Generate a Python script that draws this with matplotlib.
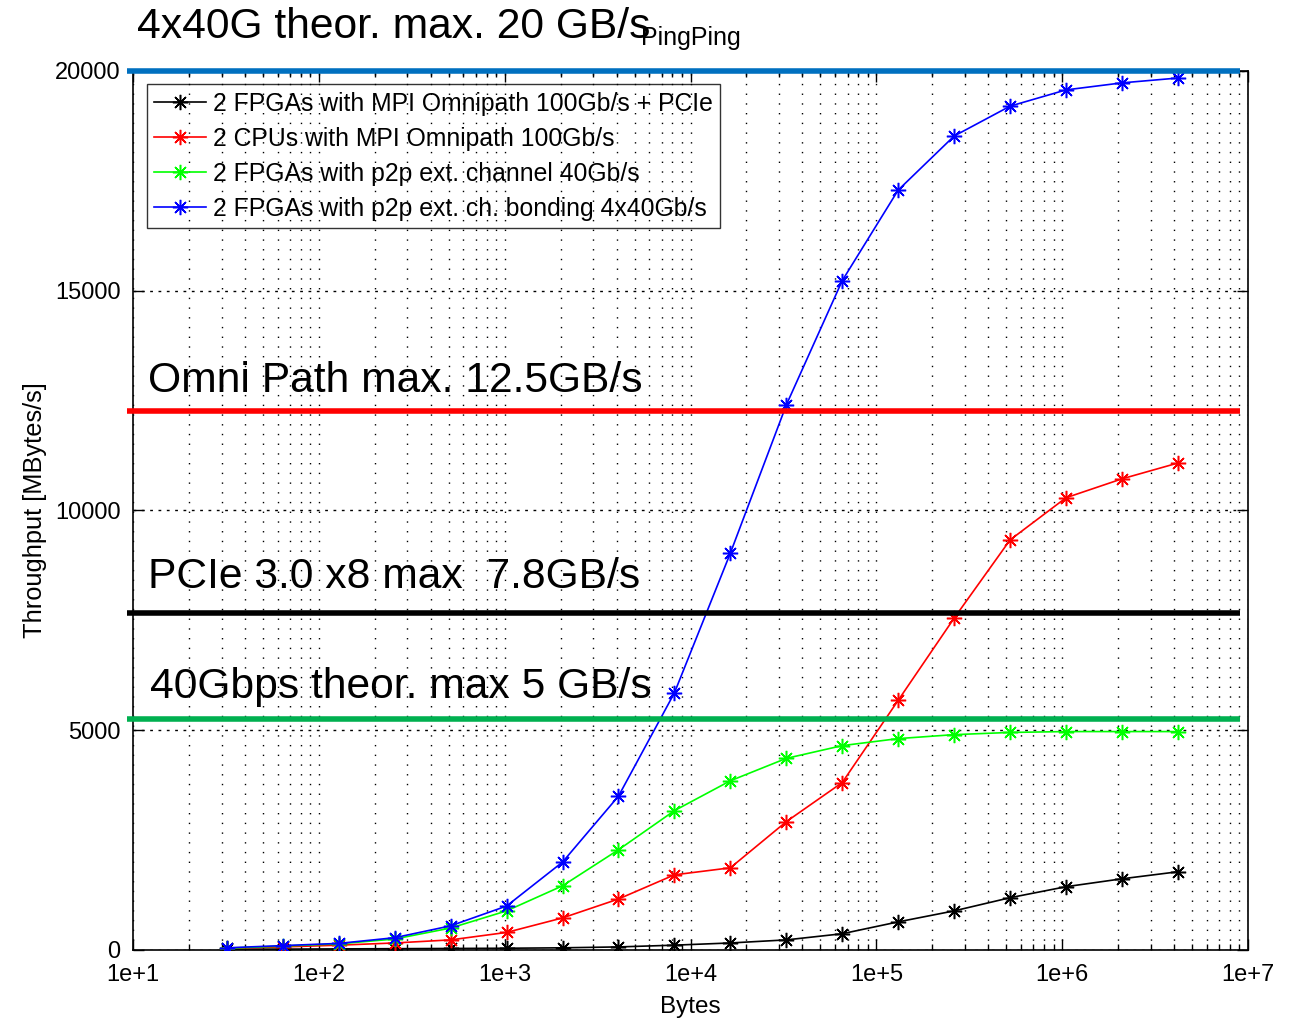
import math

import matplotlib
matplotlib.use("Agg")
import matplotlib.pyplot as plt
from matplotlib.ticker import FixedLocator, NullFormatter, FuncFormatter

plt.rcParams["font.family"] = ["Liberation Sans", "DejaVu Sans"]

# ---------------------------------------------------------------------------
# Data
# ---------------------------------------------------------------------------
msg_bytes = [32, 64, 128, 256, 512, 1024, 2048, 4096, 8192, 16384, 32768,
             65536, 131072, 262144, 524288, 1048576, 2097152, 4194304]

fpga_mpi_pcie = [20, 20, 25, 30, 35, 40, 50, 70, 110, 160, 230, 370, 640,
                 890, 1190, 1440, 1620, 1780]
cpu_mpi = [40, 70, 110, 160, 230, 400, 730, 1160, 1710, 1870, 2920, 3810,
           5680, 7550, 9330, 10290, 10720, 11080]
fpga_p2p = [40, 90, 140, 250, 500, 890, 1460, 2280, 3170, 3850, 4360, 4650,
            4810, 4900, 4950, 4970, 4970, 4970]
fpga_bonding = [50, 100, 150, 280, 550, 1000, 2000, 3500, 5850, 9030, 12400,
                15230, 17290, 18520, 19200, 19570, 19730, 19840]

series = [fpga_mpi_pcie, cpu_mpi, fpga_p2p, fpga_bonding]
series_labels = [
    "2 FPGAs with MPI Omnipath 100Gb/s + PCIe",
    "2 CPUs with MPI Omnipath 100Gb/s",
    "2 FPGAs with p2p ext. channel 40Gb/s",
    "2 FPGAs with p2p ext. ch. bonding 4x40Gb/s",
]
series_colors = ["#000000", "#ff0000", "#00ff00", "#0000ff"]

x_ticks = [1e1, 1e2, 1e3, 1e4, 1e5, 1e6, 1e7]
x_minor = [m * 10 ** e for e in range(1, 7) for m in range(2, 10)]
y_ticks = [0, 5000, 10000, 15000, 20000]

# theoretical limits drawn over the plot
limit_values = [20000, 12270, 7670, 5260]
limit_labels = [
    "4x40G theor. max. 20 GB/s",
    "Omni Path max. 12.5GB/s",
    "PCIe 3.0 x8 max  7.8GB/s",
    "40Gbps theor. max 5 GB/s",
]
limit_colors = ["#0070c0", "#ff0000", "#000000", "#00b050"]
label_offsets = [(4, 33), (15, 19), (15, 25), (17, 21)]  # pixels

# ---------------------------------------------------------------------------
# Figure
# ---------------------------------------------------------------------------
W, H = 1296, 1019
fig = plt.figure(figsize=(W / 100, H / 100), dpi=100)
ax = fig.add_axes([133 / W, 69 / H, 1115 / W, 879 / H])

for ys, lab, col in zip(series, series_labels, series_colors):
    ax.plot(msg_bytes, ys, color=col, lw=1.2, marker=(8, 2, 0),
            markersize=11, markeredgewidth=1.1, label=lab, zorder=3)

ax.set_xscale("log")
ax.set_xlim(10, 1e7)
ax.set_ylim(0, 20000)
ax.xaxis.set_major_locator(FixedLocator(x_ticks))
ax.xaxis.set_minor_locator(FixedLocator(x_minor))
ax.xaxis.set_minor_formatter(NullFormatter())
ax.xaxis.set_major_formatter(FuncFormatter(lambda v, p: "1e+%d" % round(math.log10(v))))
ax.yaxis.set_major_locator(FixedLocator(y_ticks))

ax.tick_params(which="both", direction="in", top=True, right=True, width=1)
ax.tick_params(which="major", length=8)
ax.tick_params(which="minor", length=4)
ax.tick_params(axis="x", labelsize=17, pad=10)
ax.tick_params(axis="y", labelsize=17, pad=9)

ax.grid(True, axis="x", which="both", color="black", lw=1, linestyle=(0, (1, 6)))
ax.grid(True, axis="y", which="major", color="black", lw=1, linestyle=(0, (2, 4)))
ax.set_axisbelow(True)
for sp in ax.spines.values():
    sp.set_linewidth(1.2)

ax.set_xlabel("Bytes", fontsize=17.5, labelpad=7)
ax.set_ylabel("Throughput [MBytes/s]", fontsize=18.3, labelpad=6)
ax.set_title("PingPing", fontsize=18, pad=19)

leg = ax.legend(loc="upper left", bbox_to_anchor=(0.0126, 0.985), borderaxespad=0,
                fontsize=17.8, frameon=True, fancybox=False, facecolor="none",
                handlelength=2.1, handletextpad=0.25, labelspacing=0.45,
                borderpad=0.3)
leg.get_frame().set_edgecolor("black")
leg.get_frame().set_linewidth(1.0)

# overlaid limit lines with their captions
for val, lab, col, (dx, dy) in zip(limit_values, limit_labels, limit_colors, label_offsets):
    ax.plot([-0.005, 0.993], [val, val], color=col, lw=4.0,
            transform=ax.get_yaxis_transform(), clip_on=False, zorder=5,
            solid_capstyle="butt")
    ax.annotate(lab, xy=(0, val), xycoords=("axes fraction", "data"),
                xytext=(dx, dy), textcoords="offset pixels",
                fontsize=30.7, va="baseline", ha="left", zorder=6,
                annotation_clip=False)

fig.savefig("out.png", dpi=100)
